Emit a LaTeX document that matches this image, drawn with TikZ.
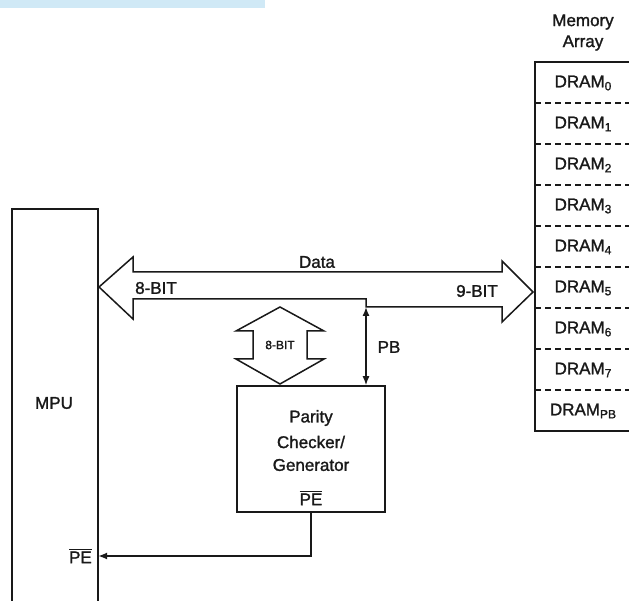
\documentclass[tikz,border=0pt]{standalone}
\usepackage{fontspec}
\setmainfont[FakeBold=1.4]{Liberation Sans}
\usetikzlibrary{arrows.meta}
\definecolor{ink}{RGB}{25,25,25}
\definecolor{barblue}{RGB}{208,233,246}
\newcommand\barred[1]{\vbox{\hrule height 1.3pt\kern 1.4pt\hbox{#1}}}
\newcommand\lowsub[1]{\raisebox{-3pt}{\fontsize{12}{14}\selectfont #1}}
\begin{document}
\begin{tikzpicture}[x=1pt,y=-1pt,
  lbl/.style={font=\fontsize{17}{20}\selectfont, text=ink, inner sep=0pt},
  small/.style={font=\fontsize{12}{14}\selectfont, text=ink, inner sep=0pt},
  box/.style={draw=ink, line width=1.6pt},
  bus/.style={draw=ink, line width=1.5pt, line join=miter},
  sig/.style={draw=ink, line width=1.4pt, -{Latex[length=9pt,width=7pt]}},
  bothsig/.style={draw=ink, line width=1.4pt, {Latex[length=9pt,width=7pt]}-{Latex[length=9pt,width=7pt]}},
  sepline/.style={draw=ink, line width=1.4pt, dash pattern=on 6pt off 4pt}]

\useasboundingbox (0,0) rectangle (629,601);
\fill[barblue] (0,0) rectangle (265,8);

% MPU (open at the bottom)
\node[minimum width=86pt, minimum height=392pt, inner sep=0pt] (mpu) at (55,405) {};
\draw[box] (mpu.south west) -- (mpu.north west) -- (mpu.north east) -- (mpu.south east);
\node[lbl] (mputxt) at (54,403) {MPU};
\node[lbl, anchor=east] (pein) at (92,556) {\barred{PE}};

% Memory array (open at the right)
\node[lbl] (memt1) at (583,22) {Memory};
\node[lbl] (memt2) at (583,43) {Array};
\node[minimum width=94pt, minimum height=369pt, inner sep=0pt] (mem) at (582,246.5) {};
\draw[box] (mem.north east) -- (mem.north west) -- (mem.south west) -- (mem.south east);
\foreach \i/\s in {0/0,1/1,2/2,3/3,4/4,5/5,6/6,7/7,8/PB}{
  \node[lbl] (dram\i) at (583,{62+41*\i+21}) {DRAM\lowsub{\s}};
}
\foreach \i in {1,...,8}{
  \draw[sepline] (535,{62+41*\i}) -- (629,{62+41*\i});
}

% Data bus
\draw[bus] (99,287) -- (133,257) -- (133,272) -- (502,272) -- (502,261) -- (533,292)
  -- (502,322) -- (502,307) -- (366,307) -- (366,299) -- (133,299) -- (133,319) -- cycle;
\node[lbl] (datalbl) at (317,262) {Data};
\node[lbl] (bit8) at (156,288) {8-BIT};
\node[lbl] (bit9) at (477,291) {9-BIT};

% Parity checker / generator
\node[box, minimum width=148pt, minimum height=126pt, inner sep=0pt] (par) at (311,449) {};
\node[lbl] (p1) at (311,418) {Parity};
\node[lbl] (p2) at (311,442) {Checker/};
\node[lbl] (p3) at (311,465) {Generator};
\node[lbl] (pepar) at (311,498) {\barred{PE}};

% small 8-bit bidirectional arrow
\draw[bus] (280,307) -- (324,331) -- (307,331) -- (307,359) -- (324,359) -- (280,384)
  -- (236,359) -- (253,359) -- (253,331) -- (236,331) -- cycle;
\node[small] (bit8s) at (280,345) {8-BIT};

% PB line
\coordinate (pbtop) at (366,307);
\draw[bothsig] (pbtop) -- (pbtop |- par.north);
\node[lbl] (pblbl) at (389,347) {PB};

% PE line
\draw[sig] (par.south) |- (mpu.east |- pein);
\end{tikzpicture}
\end{document}
